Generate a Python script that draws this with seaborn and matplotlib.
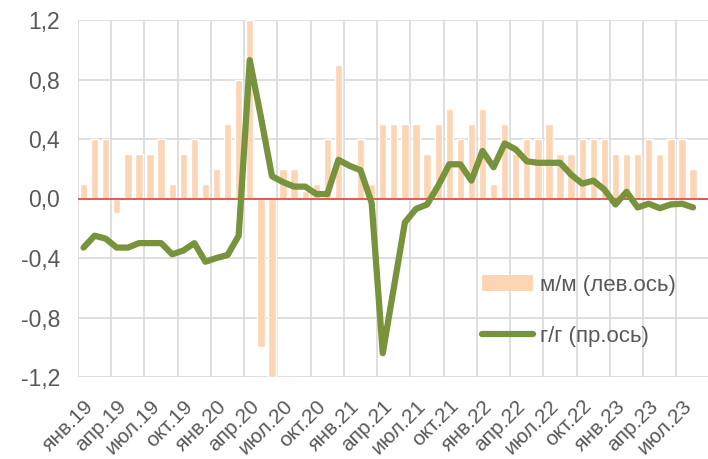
import numpy as np
import pandas as pd
import matplotlib
matplotlib.use('Agg')
import matplotlib.pyplot as plt
import seaborn as sns
from matplotlib.patches import Patch
from matplotlib.lines import Line2D

# months Jan 2019 - Aug 2023
months = ['янв', 'фев', 'мар', 'апр', 'май', 'июн', 'июл', 'авг', 'сен', 'окт', 'ноя', 'дек']
years = ['19', '20', '21', '22', '23']

# м/м, left axis
mm = [0.1, 0.4, 0.4, -0.1, 0.3, 0.3, 0.3, 0.4, 0.1, 0.3, 0.4, 0.1,
      0.2, 0.5, 0.8, 1.2, -1.0, -1.2, 0.2, 0.2, 0.05, 0.1, 0.4, 0.9,
      0.0, 0.4, 0.1, 0.5, 0.5, 0.5, 0.5, 0.3, 0.5, 0.6, 0.4, 0.5,
      0.6, 0.1, 0.5, 0.3, 0.4, 0.4, 0.5, 0.3, 0.3, 0.4, 0.4, 0.4,
      0.3, 0.3, 0.3, 0.4, 0.3, 0.4, 0.4, 0.2]

# г/г, right axis (hidden scale)
yy = [-0.33, -0.25, -0.27, -0.33, -0.33, -0.30, -0.30, -0.30, -0.375, -0.35, -0.30, -0.425,
      -0.40, -0.38, -0.25, 0.93, 0.55, 0.15, 0.11, 0.08, 0.08, 0.03, 0.03, 0.26,
      0.22, 0.19, -0.03, -1.04, -0.60, -0.16, -0.07, -0.04, 0.085, 0.23, 0.23, 0.12,
      0.32, 0.21, 0.37, 0.33, 0.25, 0.24, 0.24, 0.24, 0.16, 0.10, 0.12, 0.06,
      -0.04, 0.045, -0.06, -0.035, -0.065, -0.04, -0.035, -0.06]

labels = [m + '.' + y for y in years for m in months][:len(mm)]
ytick_vals = [-1.2, -0.8, -0.4, 0.0, 0.4, 0.8, 1.2]

bar_col = '#fcd5b5'
line_col = '#77933c'
grid_col = '#d9d9d9'
txt_col = '#595959'

sns.set_style('white')
plt.rcParams['font.family'] = ['Liberation Sans', 'DejaVu Sans']

df = pd.DataFrame({'x': np.arange(len(mm)), 'mm': mm, 'yy': yy})

fig, ax = plt.subplots(figsize=(7.08, 4.59), dpi=100)
fig.subplots_adjust(left=78/708, right=1.0, top=1-20/459, bottom=1-377/459)

sns.barplot(data=df, x='x', y='mm', color=bar_col, saturation=1, width=0.66,
            native_scale=True, ax=ax, zorder=2)
ax.axhline(0, color='#e0302b', lw=1.1, zorder=3)

ax.set_xlim(-0.5, 56.35)
ax.set_ylim(-1.2, 1.2)
ax.set_yticks(ytick_vals)
ax.set_yticklabels([f'{v:.1f}'.replace('.', ',') for v in ytick_vals],
                   fontsize=16.5, color=txt_col)
ax.set_xticks(df['x'][::3])
ax.set_xticklabels(labels[::3], rotation=45, ha='right', rotation_mode='anchor',
                   fontsize=15, color=txt_col)
ax.set_xticks(np.arange(-0.5, 56, 3), minor=True)
ax.grid(True, axis='y', which='major', color=grid_col, lw=1.2, zorder=0)
ax.grid(True, axis='x', which='minor', color=grid_col, lw=1.2, zorder=0)
ax.tick_params(which='both', length=0)
ax.tick_params(axis='y', pad=13)
ax.tick_params(axis='x', pad=14)
ax.set_xlabel('')
ax.set_ylabel('')
ax.set_axisbelow(True)
for s in ax.spines.values():
    s.set_visible(False)

ax2 = ax.twinx()
sns.lineplot(data=df, x='x', y='yy', color=line_col, lw=4.5, ax=ax2,
             solid_joinstyle='round', solid_capstyle='round')
ax2.set_ylim(-1.2, 1.2)
ax2.set_yticks([])
ax2.set_ylabel('')
for s in ax2.spines.values():
    s.set_visible(False)

handles = [Patch(facecolor=bar_col, edgecolor='none'),
           Line2D([0], [0], color=line_col, lw=4.5)]
ax2.legend(handles, ['м/м (лев.ось)', 'г/г (пр.ось)'], loc='center left',
           bbox_to_anchor=(0.61, 0.185), frameon=False, fontsize=16,
           handlelength=2.3, labelspacing=1.35, labelcolor=txt_col, handletextpad=0.3)

fig.savefig('out.png', dpi=100)
